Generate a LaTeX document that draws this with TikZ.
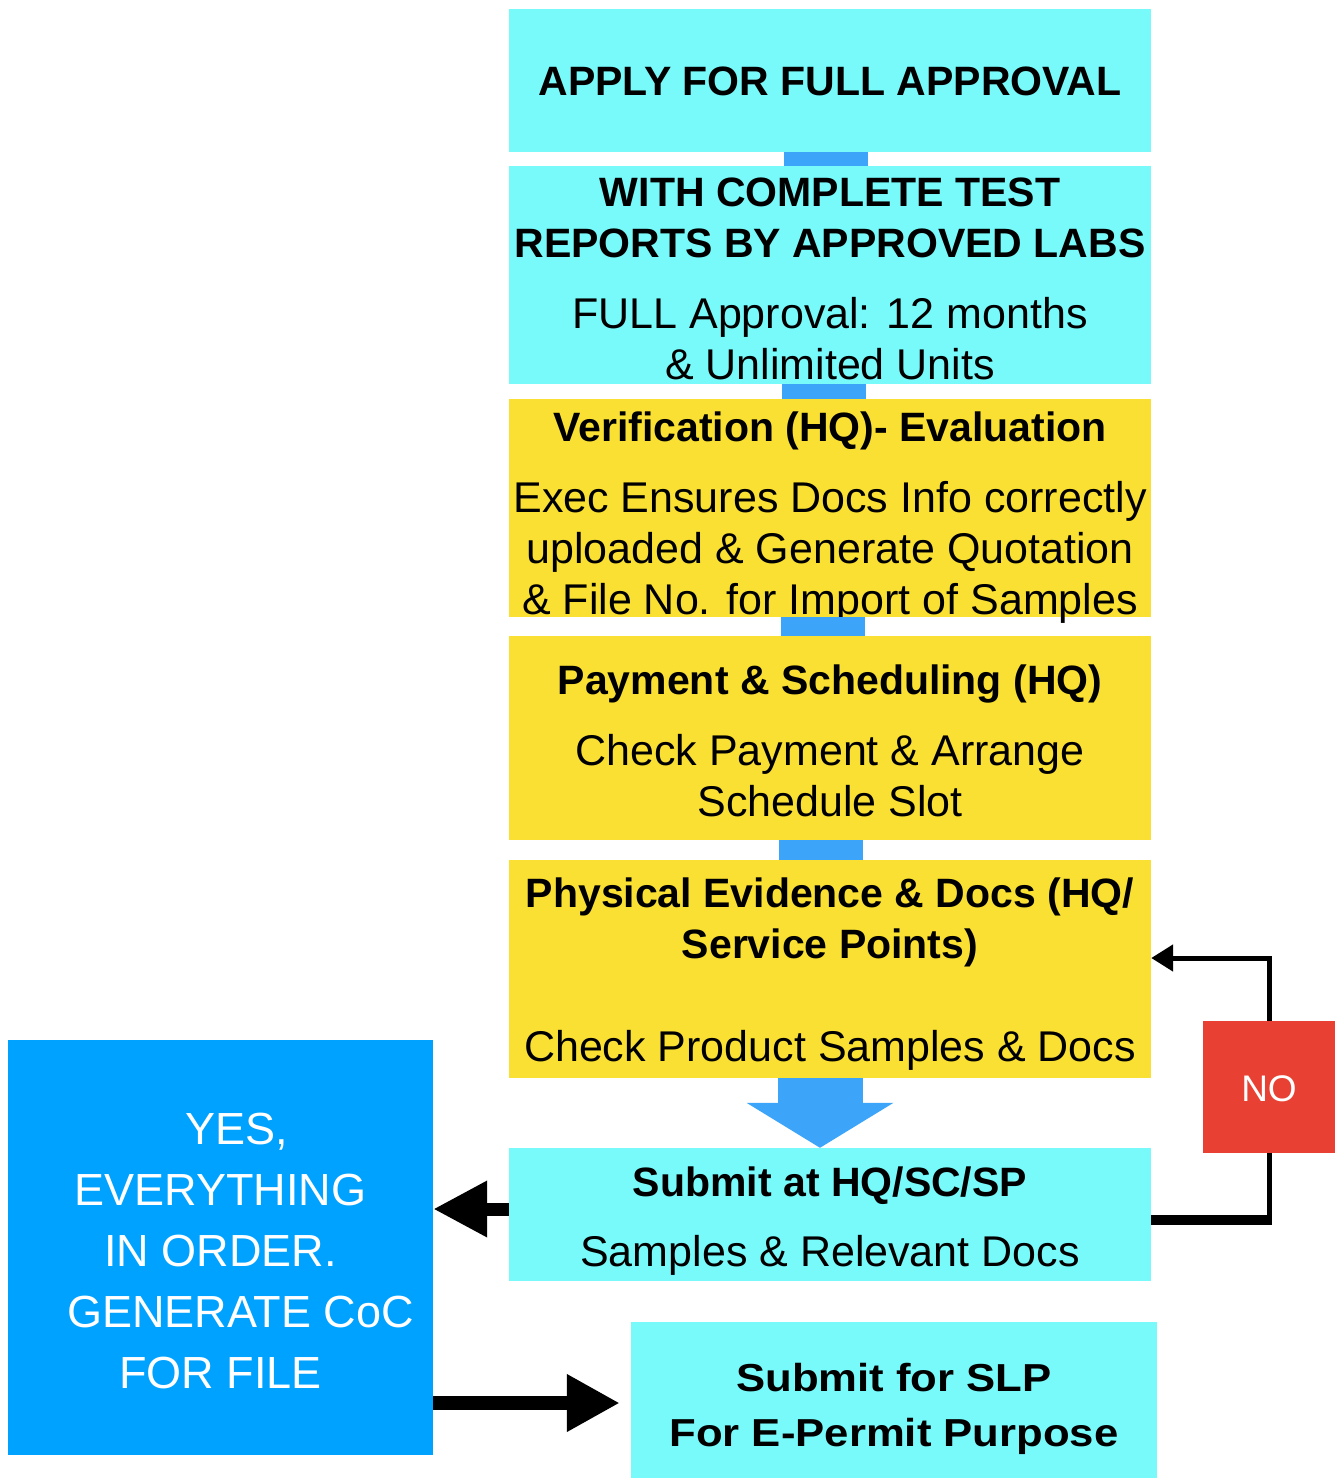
\documentclass[tikz,border=0pt]{standalone}
\usepackage{fontspec}
\setmainfont{Liberation Sans}
\newfontfamily\slpfont{Liberation Sans}[FakeStretch=1.12]
\usetikzlibrary{arrows.meta}
\definecolor{cyanbox}{RGB}{120,249,250}
\definecolor{yellowbox}{RGB}{249,224,51}
\definecolor{connblue}{RGB}{60,165,250}
\definecolor{yesblue}{RGB}{0,162,255}
\definecolor{nored}{RGB}{232,65,51}
\newcommand\hdline[1]{{\fontsize{41}{51}\selectfont\bfseries #1}}
\begin{document}
\begin{tikzpicture}[x=1pt,y=-1pt,
  flowbox/.style={rectangle, inner sep=0pt, minimum width=642pt},
  cyanflow/.style={flowbox, fill=cyanbox},
  yellowflow/.style={flowbox, fill=yellowbox},
  flowtext/.style={inner sep=0pt, align=center, text=black, font=\fontsize{43}{51}\selectfont},
  link/.style={draw=connblue, line width=84pt},
  fatarrow/.style={draw=connblue, line width=85pt, -{Triangle[length=45pt,width=145pt]}},
  blackarrow/.style={draw=black},
]
\useasboundingbox (0,0) rectangle (1343,1479);

% boxes
\node[cyanflow, minimum height=143pt] (apply) at (830,80.5) {};
\node[cyanflow, minimum height=218pt] (tests) at (830,275) {};
\node[yellowflow, minimum height=218pt] (verify) at (830,508) {};
\node[yellowflow, minimum height=204pt] (payment) at (830,738) {};
\node[yellowflow, minimum height=218pt] (physical) at (830,969) {};
\node[cyanflow, minimum height=133pt] (submit) at (830,1214.5) {};
\node[fill=yesblue, inner sep=0pt, minimum width=425pt, minimum height=415pt] (yes) at (220.5,1247.5) {};
\node[fill=cyanbox, inner sep=0pt, minimum width=526pt, minimum height=156pt] (slp) at (894,1400) {};
\node[fill=nored, inner sep=0pt, minimum width=132pt, minimum height=132pt] (no) at (1269,1087) {};

% texts
\node[flowtext] (applyT) at ([yshift=-1pt]apply.center) {\hdline{APPLY FOR FULL APPROVAL}};
\node[flowtext] (testsT) at ([yshift=-4pt]tests.center) {\hdline{WITH COMPLETE TEST}\\ \hdline{REPORTS BY APPROVED LABS}\\[20pt] FULL Approval: 12 months\\ \& Unlimited Units};
\node[flowtext] (verifyT) at ([yshift=-10pt]verify.center) {\hdline{Verification (HQ)- Evaluation}\\[20pt] Exec Ensures Docs Info correctly\\ uploaded \& Generate Quotation\\ \& File No. for Import of Samples};
\node[flowtext] (paymentT) at ([yshift=-3pt]payment.center) {\hdline{Payment \& Scheduling (HQ)}\\[20pt] Check Payment \& Arrange\\ Schedule Slot};
\node[flowtext] (physicalT) at ([yshift=-5pt]physical.center) {\hdline{Physical Evidence \& Docs (HQ/}\\ \hdline{Service Points)}\\[52pt] Check Product Samples \& Docs};
\node[flowtext] (submitT) at ([yshift=-7pt]submit.center) {\hdline{Submit at HQ/SC/SP}\\[19pt] Samples \& Relevant Docs};
\node[inner sep=0pt, text=white, align=center, font=\fontsize{45}{61}\selectfont] (yesT) at ([yshift=-3pt]yes.center) {\hspace*{32pt}YES,\\ EVERYTHING\\ IN ORDER.\\ \hspace*{40pt}GENERATE CoC\\ FOR FILE};
\node[inner sep=0pt, align=center, font=\slpfont\bfseries\fontsize{39}{55}\selectfont] (slpT) at ([yshift=-9pt]slp.center) {Submit for SLP\\ For E-Permit Purpose};
\node[inner sep=0pt, text=white, font=\fontsize{37}{44}\selectfont] (noT) at ([yshift=-2pt]no.center) {NO};

% blue connectors
\draw[link] ([xshift=-4pt]apply.south) -- ([xshift=-4pt]tests.north);
\draw[link] ([xshift=-6pt]tests.south) -- ([xshift=-6pt]verify.north);
\draw[link] ([xshift=-7pt]verify.south) -- ([xshift=-7pt]payment.north);
\draw[link] ([xshift=-9pt]payment.south) -- ([xshift=-9pt]physical.north);
\draw[fatarrow] ([xshift=-10pt]physical.south) -- ([xshift=-10pt]submit.north);

% black arrows
\coordinate (la) at (0,1209);
\draw[blackarrow, line width=13pt, -{Triangle[length=54pt,width=53pt]}] (submit.west |- la) -- (yes.east |- la);
\coordinate (ra) at (0,1403);
\draw[blackarrow, line width=14pt, shorten >=11pt, -{Triangle[length=53pt,width=54pt]}] (yes.east |- ra) -- (slp.west |- ra);

% NO loop
\coordinate (lc) at (1269,1220);
\draw[blackarrow, line width=5pt] (no.south) -- (lc);
\draw[blackarrow, line width=10pt] (submit.east |- lc) -- ([xshift=2.5pt]lc);
\coordinate (lt) at (0,958);
\draw[blackarrow, line width=5pt, -{Triangle[length=22pt,width=26pt]}] (no.north) |- (physical.east |- lt);
\end{tikzpicture}
\end{document}
